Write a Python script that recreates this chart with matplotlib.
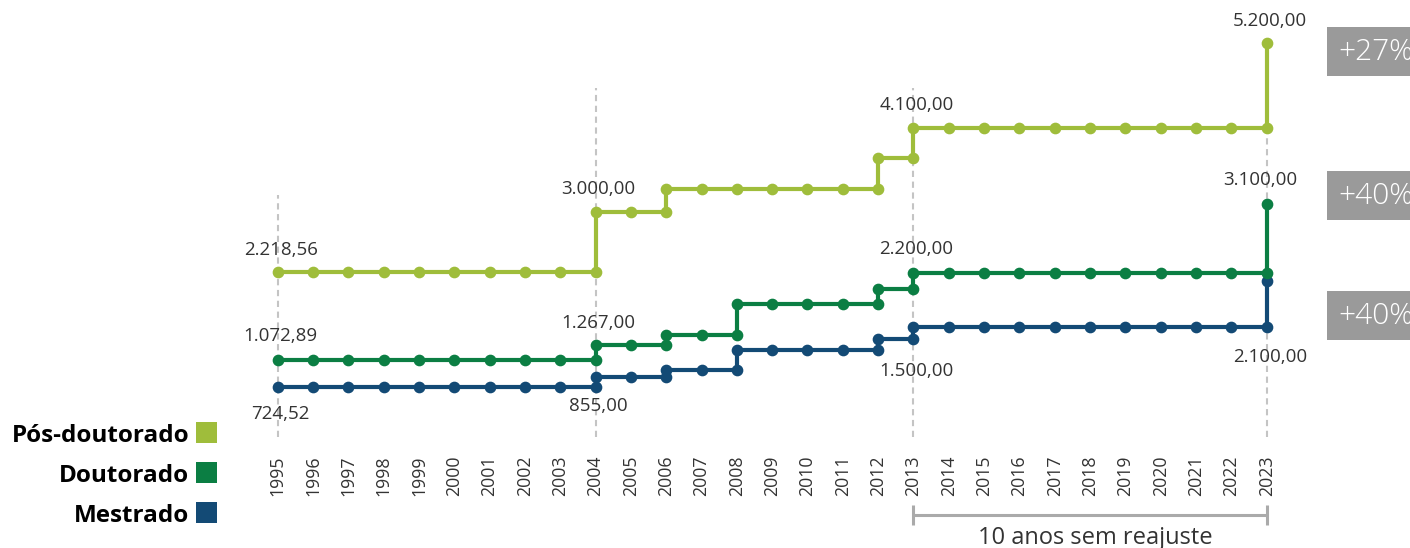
import matplotlib
matplotlib.use('Agg')
import matplotlib.pyplot as plt
from matplotlib.patches import Rectangle

plt.rcParams['font.family'] = ['Open Sans', 'DejaVu Sans']

# bolsas CAPES/CNPq (R$), valor vigente em cada ano
years = list(range(1995, 2024))
pos_doutorado = [2218.56, 2218.56, 2218.56, 2218.56, 2218.56, 2218.56, 2218.56, 2218.56, 2218.56,
                 3000.00, 3000.00,
                 3300.00, 3300.00, 3300.00, 3300.00, 3300.00, 3300.00,
                 3700.00,
                 4100.00, 4100.00, 4100.00, 4100.00, 4100.00, 4100.00, 4100.00, 4100.00, 4100.00, 4100.00,
                 5200.00]
doutorado = [1072.89, 1072.89, 1072.89, 1072.89, 1072.89, 1072.89, 1072.89, 1072.89, 1072.89,
             1267.00, 1267.00,
             1394.00, 1394.00,
             1800.00, 1800.00, 1800.00, 1800.00,
             2000.00,
             2200.00, 2200.00, 2200.00, 2200.00, 2200.00, 2200.00, 2200.00, 2200.00, 2200.00, 2200.00,
             3100.00]
mestrado = [724.52, 724.52, 724.52, 724.52, 724.52, 724.52, 724.52, 724.52, 724.52,
            855.00, 855.00,
            940.00, 940.00,
            1200.00, 1200.00, 1200.00, 1200.00,
            1350.00,
            1500.00, 1500.00, 1500.00, 1500.00, 1500.00, 1500.00, 1500.00, 1500.00, 1500.00, 1500.00,
            2100.00]

labelled_years = [1995, 2004, 2013, 2023]
reajuste_2023 = ['+27%', '+40%', '+40%']

C_POS = '#9fbd3b'
C_DOU = '#0b7e43'
C_MES = '#134a75'
C_TXT = '#333333'


def brl(v):
    s = f'{v:,.2f}'
    return s.replace(',', '_').replace('.', ',').replace('_', '.')


fig = plt.figure(figsize=(14.1, 5.48), dpi=100)
ax = fig.add_axes([0, 0, 1, 1])
ax.set_xlim(1987.140, 2027.057)
ax.set_ylim(-1377.6, 5764.5)
ax.axis('off')

# linhas tracejadas de referencia
for yr in labelled_years:
    top = 3223 if yr == 1995 else 4618
    ax.plot([yr, yr], [69, top], color='#c4c4c4', lw=1.5, dashes=(3, 2.2), zorder=1)

# series em degrau, com marcador antes e depois de cada reajuste
series = [
    (mestrado, C_MES, {1995: -32, 2004: -34, 2013: -49, 2023: -81}, {}),
    (doutorado, C_DOU, {1995: 19, 2004: 17, 2013: 19, 2023: 19}, {2023: -9}),
    (pos_doutorado, C_POS, {1995: 17, 2004: 18, 2013: 18, 2023: 17}, {}),
]
for vals, col, dy, dx in series:
    ax.plot(years, vals, drawstyle='steps-post', color=col, lw=3.0, zorder=2,
            solid_joinstyle='miter')
    ax.plot(years, vals, 'o', color=col, ms=7.4, zorder=3)
    old_x = [years[i] for i in range(1, len(vals)) if vals[i] != vals[i - 1]]
    old_y = [vals[i - 1] for i in range(1, len(vals)) if vals[i] != vals[i - 1]]
    ax.plot(old_x, old_y, 'o', color=col, ms=7.4, zorder=3)
    for yr in labelled_years:
        v = vals[years.index(yr)]
        ax.annotate(brl(v), (yr, v), xytext=(3 + dx.get(yr, 0), dy[yr]),
                    textcoords='offset pixels', ha='center', va='baseline',
                    fontsize=13.5, color=C_TXT, zorder=4)

# rotulos dos anos
for yr in years:
    ax.text(yr, -175, str(yr), rotation=90, ha='center', va='top',
            fontsize=12.8, color=C_TXT)

# chave "10 anos sem reajuste"
ax.plot([2013, 2023], [-947, -947], color='#aaaaaa', lw=2.2, solid_capstyle='butt')
for yr in (2013, 2023):
    ax.plot([yr, yr], [-817, -1078], color='#aaaaaa', lw=2.2, solid_capstyle='butt')
ax.text(2018.15, -1320, '10 anos sem reajuste', ha='center', va='baseline',
        fontsize=17, color=C_TXT)

# caixas com o percentual de reajuste de 2023
box_tops = [27, 171, 291]
for txt, top in zip(reajuste_2023, box_tops):
    y0 = 1 - (top + 49) / 548
    ax.add_patch(Rectangle((1327 / 1410, y0), 0.2, 49 / 548, transform=ax.transAxes,
                           facecolor='#9a9a9a', edgecolor='none', zorder=5))
    ax.text(1338 / 1410, 1 - (top + 33.5) / 548, txt, transform=ax.transAxes,
            ha='left', va='baseline', fontsize=21.5, fontweight='light',
            color='white', zorder=6)

# legenda
legend = [('Pós-doutorado', C_POS, 441.7), ('Doutorado', C_DOU, 482), ('Mestrado', C_MES, 521.7)]
for name, col, yb in legend:
    ax.text(189 / 1410, 1 - yb / 548, name, transform=ax.transAxes, ha='right',
            va='baseline', fontsize=17.5, fontweight='bold', color='black')
    ax.add_patch(Rectangle((196 / 1410, 1 - (yb + 1) / 548), 21 / 1410, 21 / 548,
                           transform=ax.transAxes, facecolor=col, edgecolor='none'))

fig.savefig('out.png', dpi=100)
